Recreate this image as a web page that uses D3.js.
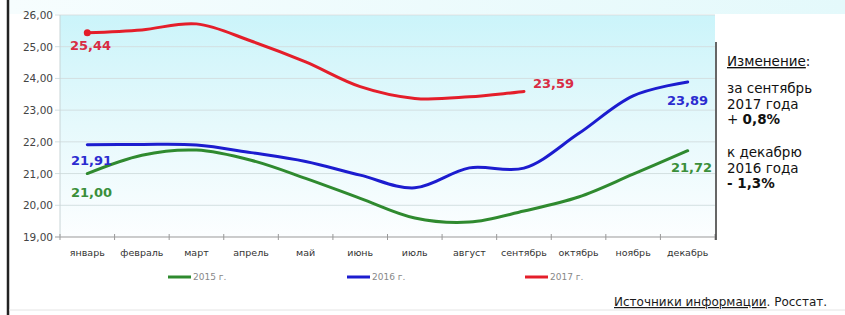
<!DOCTYPE html>
<html><head><meta charset="utf-8">
<script src="https://cdn.jsdelivr.net/npm/d3@7"></script>
<style>body{margin:0;background:#fff}svg{display:block}</style>
</head><body>
<script>
const months = ["январь","февраль","март","апрель","май","июнь","июль","август","сентябрь","октябрь","ноябрь","декабрь"];
const s2015 = [21.00,21.58,21.74,21.42,20.85,20.22,19.60,19.47,19.82,20.26,20.98,21.72];
const s2016 = [21.91,21.92,21.90,21.66,21.38,20.95,20.55,21.18,21.17,22.26,23.45,23.89];
const s2017 = [25.44,25.53,25.72,25.18,24.52,23.74,23.37,23.42,23.59];
const yTicks = [19,20,21,22,23,24,25,26];
const seriesNames = ["2015 г.","2016 г.","2017 г."];
const colors = ["#2f8a2f","#1c1ccf","#e41e2a"];
const labelColors = ["#3a8f3a","#2b2bd0","#d82c44"];

const W=845,H=315;
const svg=d3.select("body").append("svg").attr("width",W).attr("height",H);
const defs=svg.append("defs");
const g=defs.append("linearGradient").attr("id","bg").attr("x1",0).attr("y1",0).attr("x2",0).attr("y2",1);
g.append("stop").attr("offset","0%").attr("stop-color","#cbf4fa");
g.append("stop").attr("offset","50%").attr("stop-color","#e6f9fc");
g.append("stop").attr("offset","100%").attr("stop-color","#fcfeff");
const g2=defs.append("linearGradient").attr("id","topbg").attr("x1",0).attr("y1",0).attr("x2",1).attr("y2",0);
g2.append("stop").attr("offset","0%").attr("stop-color","#f6fdfe");
g2.append("stop").attr("offset","100%").attr("stop-color","#e4f9fb");

const x=d3.scaleBand().domain(months).range([60,715]);
const y=d3.scaleLinear().domain([19,26]).range([237,15]);
const cx=m=>x(m)+x.bandwidth()/2;

// top band
svg.append("rect").attr("x",9).attr("y",0).attr("width",W-9).attr("height",14).attr("fill","url(#topbg)");

// frame
svg.append("line").attr("x1",8).attr("x2",8).attr("y1",0).attr("y2",H).attr("stroke","#222").attr("stroke-width",2.5);
svg.append("line").attr("x1",9).attr("x2",W).attr("y1",310).attr("y2",310).attr("stroke","#e4e4e4");

// plot bg
svg.append("rect").attr("x",60).attr("y",y(26)).attr("width",655).attr("height",y(19)-y(26)).attr("fill","url(#bg)");

// grid
svg.append("g").selectAll("line").data(yTicks).join("line")
 .attr("x1",55).attr("x2",715).attr("y1",d=>y(d)).attr("y2",d=>y(d))
 .attr("stroke",d=>d===19?"#999":"#d3dfe1").attr("stroke-width",1);
svg.append("line").attr("x1",60).attr("x2",60).attr("y1",y(26)).attr("y2",y(19)).attr("stroke","#c8d4d6");

const fmt=v=>v.toFixed(2).replace(".",",");
svg.append("g").selectAll("text").data(yTicks).join("text")
 .attr("x",53).attr("y",d=>y(d)+4).attr("text-anchor","end")
 .attr("font-family","DejaVu Sans").attr("font-size",10.5).attr("fill","#444").text(fmt);

// x axis ticks
const tickX=months.map(m=>x(m)).concat([715]);
svg.append("g").selectAll("line").data(tickX).join("line")
 .attr("x1",d=>d).attr("x2",d=>d).attr("y1",y(19)-3).attr("y2",y(19)+3).attr("stroke","#999");
svg.append("g").selectAll("text").data(months).join("text")
 .attr("x",d=>cx(d)).attr("y",256).attr("text-anchor","middle")
 .attr("font-family","DejaVu Sans").attr("font-size",9.5).attr("fill","#333").text(d=>d);

// lines
const line=d3.line().x((d,i)=>cx(months[i])).y(d=>y(d)).curve(d3.curveCatmullRom.alpha(0.5));
[s2015,s2016,s2017].forEach((s,k)=>{
  svg.append("path").datum(s).attr("d",line).attr("fill","none")
   .attr("stroke",colors[k]).attr("stroke-width",3).attr("stroke-linecap","round");
});
svg.append("circle").attr("cx",cx(months[0])).attr("cy",y(s2017[0])).attr("r",3.5).attr("fill",colors[2]);

// data labels
const lab=(txt,xx,yy,c,anchor)=>svg.append("text").attr("x",xx).attr("y",yy).attr("text-anchor",anchor||"start")
  .attr("font-family","DejaVu Sans").attr("font-weight","bold").attr("font-size",13).attr("fill",c).text(txt);
lab(fmt(s2017[0]),70,50,labelColors[2]);
lab(fmt(s2017[8]),533,88,labelColors[2]);
lab(fmt(s2016[0]),71,165,labelColors[1]);
lab(fmt(s2016[11]),708,105,labelColors[1],"end");
lab(fmt(s2015[0]),71,197,labelColors[0]);
lab(fmt(s2015[11]),712,172,labelColors[0],"end");

// legend
const legX=[168,347,525];
seriesNames.forEach((n,k)=>{
  svg.append("line").attr("x1",legX[k]).attr("x2",legX[k]+23).attr("y1",277).attr("y2",277).attr("stroke",colors[k]).attr("stroke-width",3);
  svg.append("text").attr("x",legX[k]+25).attr("y",280).attr("font-family","DejaVu Sans").attr("font-size",9).attr("fill","#888").text(n);
});

// right panel
svg.append("line").attr("x1",716).attr("x2",716).attr("y1",42).attr("y2",240).attr("stroke","#333").attr("stroke-width",1.5);
const FS=13.5;
const tx=(txt,yy,bold)=>svg.append("text").attr("x",727).attr("y",yy).attr("font-family","DejaVu Sans")
  .attr("font-size",FS).attr("fill","#111").attr("font-weight",bold?"bold":"normal").text(txt);
const t0=svg.append("text").attr("x",727).attr("y",66).attr("font-family","DejaVu Sans").attr("font-size",FS).attr("fill","#111");
t0.append("tspan").attr("text-decoration","underline").text("Изменение");
t0.append("tspan").text(":");
tx("за сентябрь",93);
tx("2017 года",109);
const t1=svg.append("text").attr("x",727).attr("y",124).attr("font-family","DejaVu Sans").attr("font-size",FS).attr("fill","#111");
t1.append("tspan").text("+ ");
t1.append("tspan").attr("font-weight","bold").text("0,8%");
tx("к декабрю",157);
tx("2016 года",173);
tx("- 1,3%",188,true);

// source
const s=svg.append("text").attr("x",614).attr("y",306).attr("font-family","DejaVu Sans").attr("font-size",12).attr("fill","#1a1a1a");
s.append("tspan").attr("text-decoration","underline").text("Источники информации");
s.append("tspan").text(". Росстат.");
</script>
</body></html>
